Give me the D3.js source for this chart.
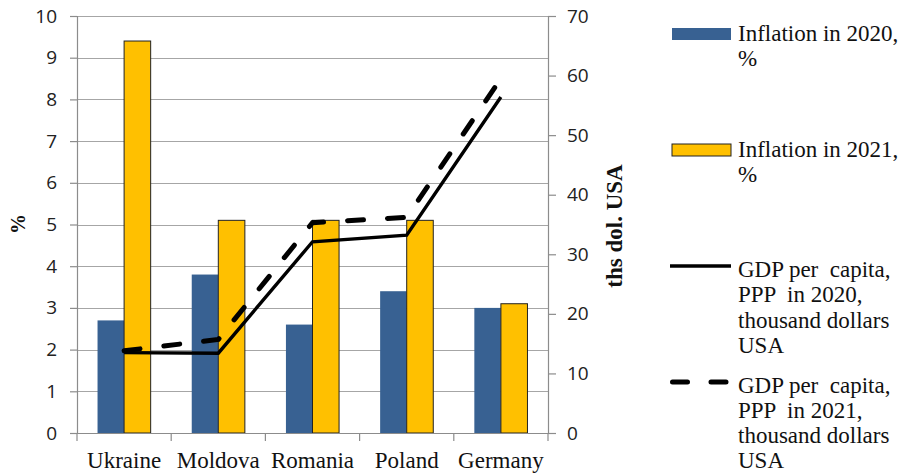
<!DOCTYPE html>
<html>
<head>
<meta charset="utf-8">
<script src="https://cdn.jsdelivr.net/npm/d3@7/dist/d3.min.js"></script>
<style>
  html, body { margin: 0; padding: 0; background: #fff; }
  svg { display: block; }
  .tick-num { font-family: "Open Sans", sans-serif; font-size: 19px; fill: #222; }
  .serif { font-family: "Liberation Serif", "Times New Roman", serif; fill: #111; }
</style>
</head>
<body>
<svg id="chart" width="904" height="474"></svg>
<script>
// Inflation (%) and GDP per capita, PPP (thousand USD) by country
const countries = ["Ukraine", "Moldova", "Romania", "Poland", "Germany"];
const inflation2020 = [2.7, 3.8, 2.6, 3.4, 3.0];
const inflation2021 = [9.4, 5.1, 5.1, 5.1, 3.1];
const gdp2020 = [13.5, 13.4, 32.1, 33.2, 56.4];
const gdp2021 = [13.8, 15.7, 35.3, 36.2, 59.5];
const leftTicks = [0, 1, 2, 3, 4, 5, 6, 7, 8, 9, 10];
const rightTicks = [0, 10, 20, 30, 40, 50, 60, 70];

const svg = d3.select("#chart");
const plot = { left: 77, right: 548, top: 16, bottom: 433 };

const x = d3.scaleBand().domain(countries).range([plot.left, plot.right]).padding(0);
const yL = d3.scaleLinear().domain([0, 10]).range([plot.bottom, plot.top]);
const yR = d3.scaleLinear().domain([0, 70]).range([plot.bottom, plot.top]);

const barW = x.bandwidth() * 0.282;
const seriesKeys = ["2020", "2021"];
const x1 = d3.scaleBand().domain(seriesKeys)
  .range([x.bandwidth() / 2 - barW, x.bandwidth() / 2 + barW]).padding(0);

const gridColor = "#a6a6a6";
const axisColor = "#8c8c8c";

// horizontal gridlines
svg.append("g").selectAll("line").data(leftTicks.filter(d => d > 0)).join("line")
  .attr("x1", plot.left).attr("x2", plot.right)
  .attr("y1", d => Math.round(yL(d)) + 0.5).attr("y2", d => Math.round(yL(d)) + 0.5)
  .attr("stroke", gridColor).attr("stroke-width", 1.2);

// left axis
const leftAxis = svg.append("g")
  .attr("transform", `translate(${plot.left},0)`)
  .call(d3.axisLeft(yL).tickValues(leftTicks).tickSize(7).tickPadding(13).tickFormat(d3.format("d")));
leftAxis.select(".domain").attr("stroke", axisColor).attr("stroke-width", 1.2);
leftAxis.selectAll(".tick line").attr("stroke", axisColor).attr("stroke-width", 1.2);
leftAxis.selectAll(".tick text").attr("class", "tick-num");
leftAxis.attr("font-size", null).attr("font-family", null);

// right axis
const rightAxis = svg.append("g")
  .attr("transform", `translate(${plot.right},0)`)
  .call(d3.axisRight(yR).tickValues(rightTicks).tickSize(8).tickPadding(11).tickFormat(d3.format("d")));
rightAxis.select(".domain").attr("stroke", axisColor).attr("stroke-width", 1.2);
rightAxis.selectAll(".tick line").attr("stroke", axisColor).attr("stroke-width", 1.2);
rightAxis.selectAll(".tick text").attr("class", "tick-num");
rightAxis.attr("font-size", null).attr("font-family", null);

// bars
const barData = countries.map((c, i) => ({ c, v: [inflation2020[i], inflation2021[i]] }));
const groups = svg.append("g").selectAll("g").data(barData).join("g")
  .attr("transform", d => `translate(${x(d.c)},0)`);
groups.append("rect")
  .attr("x", x1("2020")).attr("width", x1.bandwidth())
  .attr("y", d => yL(d.v[0])).attr("height", d => yL(0) - yL(d.v[0]))
  .attr("fill", "#386192");
groups.append("rect")
  .attr("x", x1("2021")).attr("width", x1.bandwidth())
  .attr("y", d => yL(d.v[1])).attr("height", d => yL(0) - yL(d.v[1]))
  .attr("fill", "#ffc000").attr("stroke", "#222").attr("stroke-width", 1);

// bottom axis
const bottomAxis = svg.append("g")
  .attr("transform", `translate(0,${plot.bottom})`);
bottomAxis.append("line")
  .attr("x1", plot.left).attr("x2", plot.right).attr("y1", 0.5).attr("y2", 0.5)
  .attr("stroke", axisColor).attr("stroke-width", 1.2);
const bounds = countries.map(c => x(c)).concat([plot.right]);
bottomAxis.selectAll("line.tk").data(bounds).join("line").attr("class", "tk")
  .attr("x1", d => d).attr("x2", d => d).attr("y1", 0).attr("y2", 8)
  .attr("stroke", axisColor).attr("stroke-width", 1.2);
bottomAxis.selectAll("text").data(countries).join("text")
  .attr("class", "serif")
  .attr("x", d => x(d) + x.bandwidth() / 2).attr("y", 35)
  .attr("text-anchor", "middle").attr("font-size", 23)
  .text(d => d);

// GDP lines
const cx = c => x(c) + x.bandwidth() / 2;
const gdpLine = d3.line().x((d, i) => cx(countries[i])).y(d => yR(d));
svg.append("path").datum(gdp2020)
  .attr("d", gdpLine).attr("fill", "none")
  .attr("stroke", "#000").attr("stroke-width", 3.4).attr("stroke-linejoin", "miter");
svg.append("path").datum(gdp2021)
  .attr("d", gdpLine).attr("fill", "none")
  .attr("stroke", "#000").attr("stroke-width", 5)
  .attr("stroke-dasharray", "16 24").attr("stroke-linecap", "round");

// axis titles
svg.append("text").attr("class", "serif")
  .attr("transform", "translate(25,224) rotate(-90)")
  .attr("text-anchor", "middle").attr("font-size", 20).attr("font-weight", "bold")
  .text("%");
svg.append("text").attr("class", "serif")
  .attr("transform", "translate(622,226) rotate(-90)")
  .attr("text-anchor", "middle").attr("font-size", 23).attr("font-weight", "bold")
  .text("ths dol. USA");

// legend
const legend = svg.append("g");
const legendItems = [
  { type: "bar", fill: "#386192", stroke: "none", y: 34, dy: 7, lines: ["Inflation in 2020,", "%"] },
  { type: "bar", fill: "#ffc000", stroke: "#222", y: 150, dy: 7, lines: ["Inflation in 2021,", "%"] },
  { type: "solid", y: 266, dy: 11, lines: ["GDP per  capita,", "PPP  in 2020,", "thousand dollars", "USA"] },
  { type: "dash", y: 382, dy: 10.5, lines: ["GDP per  capita,", "PPP  in 2021,", "thousand dollars", "USA"] }
];
legendItems.forEach(it => {
  if (it.type === "bar") {
    legend.append("rect").attr("x", 672).attr("y", it.y - 6).attr("width", 59).attr("height", 12)
      .attr("fill", it.fill).attr("stroke", it.stroke).attr("stroke-width", 1);
  } else if (it.type === "solid") {
    legend.append("line").attr("x1", 670).attr("x2", 731).attr("y1", it.y).attr("y2", it.y)
      .attr("stroke", "#000").attr("stroke-width", 3.4);
  } else {
    legend.append("line").attr("x1", 672.5).attr("x2", 729).attr("y1", it.y).attr("y2", it.y)
      .attr("stroke", "#000").attr("stroke-width", 5)
      .attr("stroke-dasharray", "15 23.5").attr("stroke-linecap", "round");
  }
  const t = legend.append("text").attr("class", "serif").attr("font-size", 23)
    .attr("x", 738).attr("y", it.y + it.dy).style("white-space", "pre");
  it.lines.forEach((ln, k) => {
    t.append("tspan").attr("x", 738).attr("dy", k === 0 ? 0 : 25.3).text(ln);
  });
});
</script>
</body>
</html>
